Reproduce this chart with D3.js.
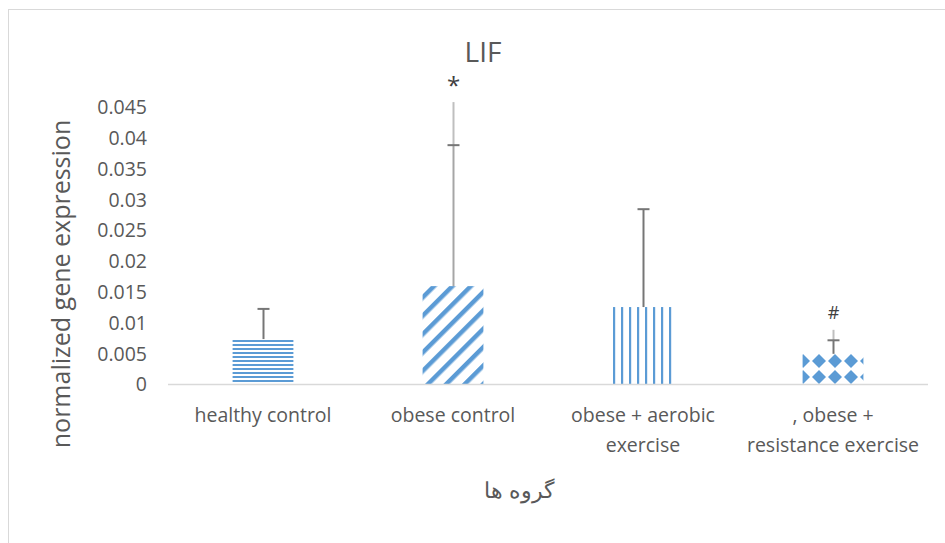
<!DOCTYPE html>
<meta charset="utf-8">
<style>
body { margin: 0; background: #fff; }
text { font-family: "Open Sans", sans-serif; fill: #595959; }
</style>
<body>
<script src="https://d3js.org/d3.v7.min.js"></script>
<script>
// chart data
var groups = ["healthy control", "obese control", "obese + aerobic exercise", ", obese + resistance exercise"];
var labelLines = [["healthy control"], ["obese control"], ["obese + aerobic", "exercise"], [", obese +", "resistance exercise"]];
var means = [0.0073, 0.0159, 0.0125, 0.0049];
var errTops = [0.0122, 0.0388, 0.0284, 0.0071];
var errExtra = [null, 0.0458, null, 0.0088];   // line continues past the cap
var marks = ["", "*", "", "#"];
var yTicks = [0, 0.005, 0.01, 0.015, 0.02, 0.025, 0.03, 0.035, 0.04, 0.045];
var tickText = ["0", "0.005", "0.01", "0.015", "0.02", "0.025", "0.03", "0.035", "0.04", "0.045"];
var patterns = ["hstripe", "diag", "vstripe", "diamond"];

var W = 945, H = 543, blue = "#5b9bd5";

var svg = d3.select("body").append("svg")
    .attr("width", W).attr("height", H);

// patterns
var defs = svg.append("defs");
var p1 = defs.append("pattern").attr("id", "hstripe").attr("patternUnits", "userSpaceOnUse")
    .attr("width", 8).attr("height", 4);
p1.append("rect").attr("width", 8).attr("height", 2).attr("fill", blue);

var p2 = defs.append("pattern").attr("id", "diag").attr("patternUnits", "userSpaceOnUse")
    .attr("width", 13).attr("height", 13).attr("patternTransform", "rotate(45)");
p2.append("rect").attr("width", 4.5).attr("height", 13).attr("fill", blue);

var p3 = defs.append("pattern").attr("id", "vstripe").attr("patternUnits", "userSpaceOnUse")
    .attr("width", 8).attr("height", 8).attr("x", 613);
p3.append("rect").attr("width", 2.2).attr("height", 8).attr("fill", blue);

var p4 = defs.append("pattern").attr("id", "diamond").attr("patternUnits", "userSpaceOnUse")
    .attr("width", 16).attr("height", 16).attr("x", 795).attr("y", 353);
p4.append("path").attr("d", "M8,1 L15,8 L8,15 L1,8 Z").attr("fill", blue);

// chart frame
svg.append("rect").attr("x", 8.5).attr("y", 9.5).attr("width", W).attr("height", H)
    .attr("fill", "none").attr("stroke", "#d9d9d9");

var x = d3.scaleBand().domain(groups).range([168, 928]).paddingInner(0.68).paddingOuter(0.34);
var y = d3.scaleLinear().domain([0, 0.045]).range([384, 107]);

// y axis labels
var yAxis = svg.append("g").attr("transform", "translate(147,0)")
    .call(d3.axisLeft(y).tickValues(yTicks).tickSize(0).tickPadding(0)
        .tickFormat(function(d, i) { return tickText[i]; }));
yAxis.select(".domain").remove();
yAxis.selectAll("text").style("font-size", "19.5px").attr("dy", "0.35em")
    .style("font-family", null).attr("fill", null);

// bars
svg.selectAll(".bar").data(groups).enter().append("rect")
    .attr("class", "bar")
    .attr("x", function(d) { return x(d); })
    .attr("width", x.bandwidth())
    .attr("y", function(d, i) { return y(means[i]); })
    .attr("height", function(d, i) { return y(0) - y(means[i]); })
    .attr("fill", function(d, i) { return "url(#" + patterns[i] + ")"; });

// baseline
svg.append("line").attr("x1", 168).attr("x2", 928)
    .attr("y1", y(0) + 0.5).attr("y2", y(0) + 0.5)
    .attr("stroke", "#d9d9d9").attr("stroke-width", 1.5);

// error bars
groups.forEach(function(g, i) {
  var cx = Math.round(x(g) + x.bandwidth() / 2) + 0.5;
  if (errExtra[i] !== null) {
    svg.append("line").attr("x1", cx).attr("x2", cx)
        .attr("y1", y(errTops[i])).attr("y2", y(errExtra[i]))
        .attr("stroke", "#bfbfbf").attr("stroke-width", 2);
  }
  svg.append("line").attr("x1", cx).attr("x2", cx)
      .attr("y1", y(means[i])).attr("y2", y(errTops[i]))
      .attr("stroke", i == 1 ? "#a6a6a6" : "#767676").attr("stroke-width", 2);
  svg.append("line").attr("x1", cx - 6).attr("x2", cx + 6)
      .attr("y1", y(errTops[i])).attr("y2", y(errTops[i]))
      .attr("stroke", "#767676").attr("stroke-width", 2);
  if (marks[i]) {
    var top = errExtra[i] !== null ? errExtra[i] : errTops[i];
    svg.append("text").attr("x", cx).attr("y", marks[i] == "*" ? y(top) - 8 : y(top) - 11)
        .attr("text-anchor", "middle").style("font-size", marks[i] == "*" ? "24px" : "18px")
        .style("fill", "#404040").text(marks[i]);
  }
});

// category labels
groups.forEach(function(g, i) {
  var t = svg.append("text").attr("x", x(g) + x.bandwidth() / 2).attr("y", 422)
      .attr("text-anchor", "middle").style("font-size", "19.5px");
  labelLines[i].forEach(function(s, j) {
    t.append("tspan").attr("x", x(g) + x.bandwidth() / 2).attr("dy", j ? 30 : 0).text(s);
  });
});

// title
svg.append("text").attr("x", 483).attr("y", 62).attr("text-anchor", "middle")
    .style("font-size", "28px").text("LIF");

// axis titles
svg.append("text").attr("transform", "translate(70,284) rotate(-90)")
    .attr("text-anchor", "middle").style("font-size", "25px")
    .text("normalized gene expression");
svg.append("text").attr("x", 519).attr("y", 498).attr("text-anchor", "middle")
    .style("font-size", "22px").text("گروه ها");
</script>
</body>
